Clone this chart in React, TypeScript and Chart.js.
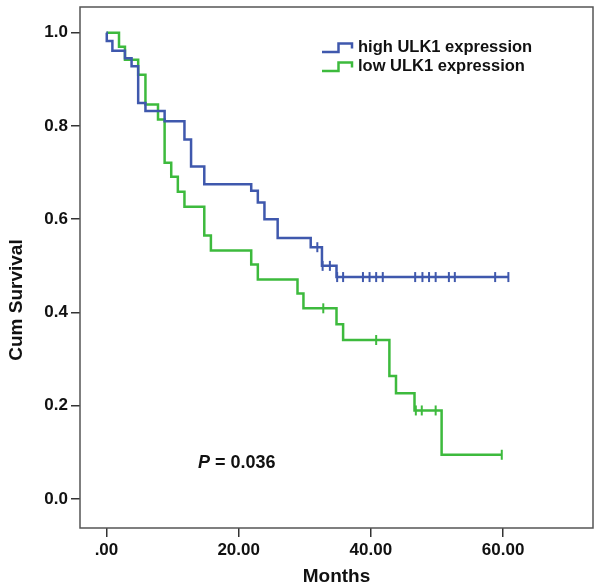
import React, { useEffect, useRef } from "react";
import { Chart, registerables } from "chart.js";

Chart.register(...registerables);

// ---- data ----
const seriesNames = ["high ULK1 expression", "low ULK1 expression"];
const seriesColors = ["#3f58ad", "#3dba3d"];

const xTicks = [0, 20, 40, 60];
const xTickLabels = [".00", "20.00", "40.00", "60.00"];
const yTicks = [0, 0.2, 0.4, 0.6, 0.8, 1.0];
const yTickLabels = ["0.0", "0.2", "0.4", "0.6", "0.8", "1.0"];

const xTitle = "Months";
const yTitle = "Cum Survival";

// high ULK1: step times and survival after each step
const highTimes = [0, 0.05, 0.9, 2.8, 3.8, 4.8, 5.9, 8.8, 11.8, 12.8, 14.8, 21.9, 22.9, 23.9, 25.9, 30.9, 32.6, 34.8, 60.8];
const highSurv = [1.0, 0.982, 0.961, 0.945, 0.928, 0.849, 0.832, 0.81, 0.771, 0.713, 0.675, 0.661, 0.636, 0.6, 0.56, 0.54, 0.5, 0.476, 0.476];
const highCensorTimes = [31.9, 32.7, 33.8, 34.9, 35.8, 38.8, 39.8, 40.8, 41.8, 46.7, 47.8, 48.8, 49.8, 51.8, 52.7, 58.8, 60.8];
const highCensorSurv = [0.54, 0.5, 0.5, 0.476, 0.476, 0.476, 0.476, 0.476, 0.476, 0.476, 0.476, 0.476, 0.476, 0.476, 0.476, 0.476, 0.476];

// low ULK1
const lowTimes = [0, 1.9, 2.8, 4.8, 5.9, 7.8, 8.8, 9.8, 10.8, 11.8, 14.8, 15.8, 21.9, 22.9, 28.9, 29.8, 34.8, 35.8, 42.8, 43.8, 46.6, 50.7, 59.8];
const lowSurv = [1.0, 0.97, 0.942, 0.91, 0.846, 0.814, 0.721, 0.691, 0.659, 0.627, 0.565, 0.533, 0.503, 0.471, 0.441, 0.409, 0.375, 0.341, 0.264, 0.227, 0.19, 0.095, 0.095];
const lowCensorTimes = [32.8, 40.8, 46.8, 47.7, 49.8, 59.8];
const lowCensorSurv = [0.409, 0.341, 0.19, 0.19, 0.19, 0.095];

const pLabel = "P";
const pValueText = " = 0.036";

const FONT = "'Liberation Sans', Arial, sans-serif";
const TEXT = "#111111";

const zip = (xs: number[], ys: number[]) => xs.map((x, i) => ({ x, y: ys[i] }));

const framePlugin = {
  id: "frameAndLegend",
  afterDraw(chart: any) {
    const { ctx, chartArea } = chart;
    ctx.save();
    // frame
    ctx.strokeStyle = "#555555";
    ctx.lineWidth = 1.5;
    ctx.strokeRect(chartArea.left, chartArea.top, chartArea.right - chartArea.left, chartArea.bottom - chartArea.top);

    // y-axis title
    ctx.save();
    ctx.translate(17, 300);
    ctx.rotate(-Math.PI / 2);
    ctx.fillStyle = TEXT;
    ctx.font = `bold 19px ${FONT}`;
    ctx.textAlign = "center";
    ctx.textBaseline = "middle";
    ctx.fillText(yTitle, 0, 0);
    ctx.restore();

    // legend
    const lx = 322;
    const rows = [47.5, 66.5];
    seriesNames.forEach((name, i) => {
      const cy = rows[i];
      ctx.strokeStyle = seriesColors[i];
      ctx.lineWidth = 2.5;
      ctx.beginPath();
      ctx.moveTo(lx, cy + 4.5);
      ctx.lineTo(lx + 16.5, cy + 4.5);
      ctx.lineTo(lx + 16.5, cy - 4);
      ctx.lineTo(lx + 30, cy - 4);
      ctx.lineTo(lx + 30, cy + 1);
      ctx.stroke();
      ctx.fillStyle = TEXT;
      ctx.font = `bold 16.5px ${FONT}`;
      ctx.textBaseline = "middle";
      ctx.textAlign = "left";
      ctx.fillText(name, lx + 36, cy);
    });

    // P value
    const px = 198;
    const py = 463;
    ctx.fillStyle = TEXT;
    ctx.textBaseline = "middle";
    ctx.textAlign = "left";
    ctx.font = `italic bold 18px ${FONT}`;
    ctx.fillText(pLabel, px, py);
    const w = ctx.measureText(pLabel).width;
    ctx.font = `bold 18px ${FONT}`;
    ctx.fillText(pValueText, px + w, py);
    ctx.restore();
  },
};

export default function App() {
  const ref = useRef<HTMLCanvasElement | null>(null);

  useEffect(() => {
    document.body.style.margin = "0";
    const canvas = ref.current;
    if (!canvas) return;
    const chart = new Chart(canvas, {
      type: "line",
      data: {
        datasets: [
          {
            label: seriesNames[0],
            data: zip(highTimes, highSurv),
            borderColor: seriesColors[0],
            borderWidth: 2.5,
            stepped: "before",
            pointRadius: 0,
            fill: false,
          },
          {
            label: seriesNames[1],
            data: zip(lowTimes, lowSurv),
            borderColor: seriesColors[1],
            borderWidth: 2.5,
            stepped: "before",
            pointRadius: 0,
            fill: false,
          },
          {
            label: "high censored",
            data: zip(highCensorTimes, highCensorSurv),
            borderColor: seriesColors[0],
            backgroundColor: seriesColors[0],
            showLine: false,
            pointStyle: "line",
            rotation: 90,
            pointRadius: 5,
            pointBorderWidth: 2,
          } as any,
          {
            label: "low censored",
            data: zip(lowCensorTimes, lowCensorSurv),
            borderColor: seriesColors[1],
            backgroundColor: seriesColors[1],
            showLine: false,
            pointStyle: "line",
            rotation: 90,
            pointRadius: 5,
            pointBorderWidth: 2,
          } as any,
        ],
      },
      options: {
        responsive: false,
        animation: false,
        devicePixelRatio: 1,
        layout: { padding: { top: 5, right: 5, left: 0, bottom: 0 } },
        plugins: {
          legend: { display: false },
          tooltip: { enabled: false },
        },
        scales: {
          x: {
            type: "linear",
            min: -4,
            max: 73.6,
            afterBuildTicks: (s: any) => {
              s.ticks = xTicks.map((v) => ({ value: v }));
            },
            afterFit: (s: any) => {
              s.height = 60;
              s.paddingLeft = 0;
              s.paddingRight = 0;
            },
            ticks: {
              autoSkip: false,
              maxRotation: 0,
              padding: 3,
              color: TEXT,
              font: { family: FONT, size: 17, weight: "bold" },
              callback: (_v: any, i: number) => xTickLabels[i],
            },
            grid: { drawOnChartArea: false, drawTicks: true, tickLength: 9, color: "#333333", lineWidth: 1.5 },
            border: { display: false },
            title: {
              display: true,
              text: xTitle,
              color: TEXT,
              font: { family: FONT, size: 19, weight: "bold" },
              padding: { top: 0, bottom: 0 },
            },
          },
          y: {
            type: "linear",
            min: -0.062,
            max: 1.055,
            afterBuildTicks: (s: any) => {
              s.ticks = yTicks.map((v) => ({ value: v }));
            },
            afterFit: (s: any) => {
              s.width = 80;
              s.paddingTop = 0;
              s.paddingBottom = 0;
            },
            ticks: {
              padding: 3,
              color: TEXT,
              font: { family: FONT, size: 17, weight: "bold" },
              callback: (_v: any, i: number) => yTickLabels[i],
            },
            grid: { drawOnChartArea: false, drawTicks: true, tickLength: 9, color: "#333333", lineWidth: 1.5 },
            border: { display: false },
            title: { display: false },
          },
        },
      },
      plugins: [framePlugin],
    });
    return () => chart.destroy();
  }, []);

  return (
    <div style={{ width: 600, height: 588, background: "#ffffff" }}>
      <canvas ref={ref} width={600} height={588} style={{ display: "block", width: 600, height: 588 }} />
    </div>
  );
}
